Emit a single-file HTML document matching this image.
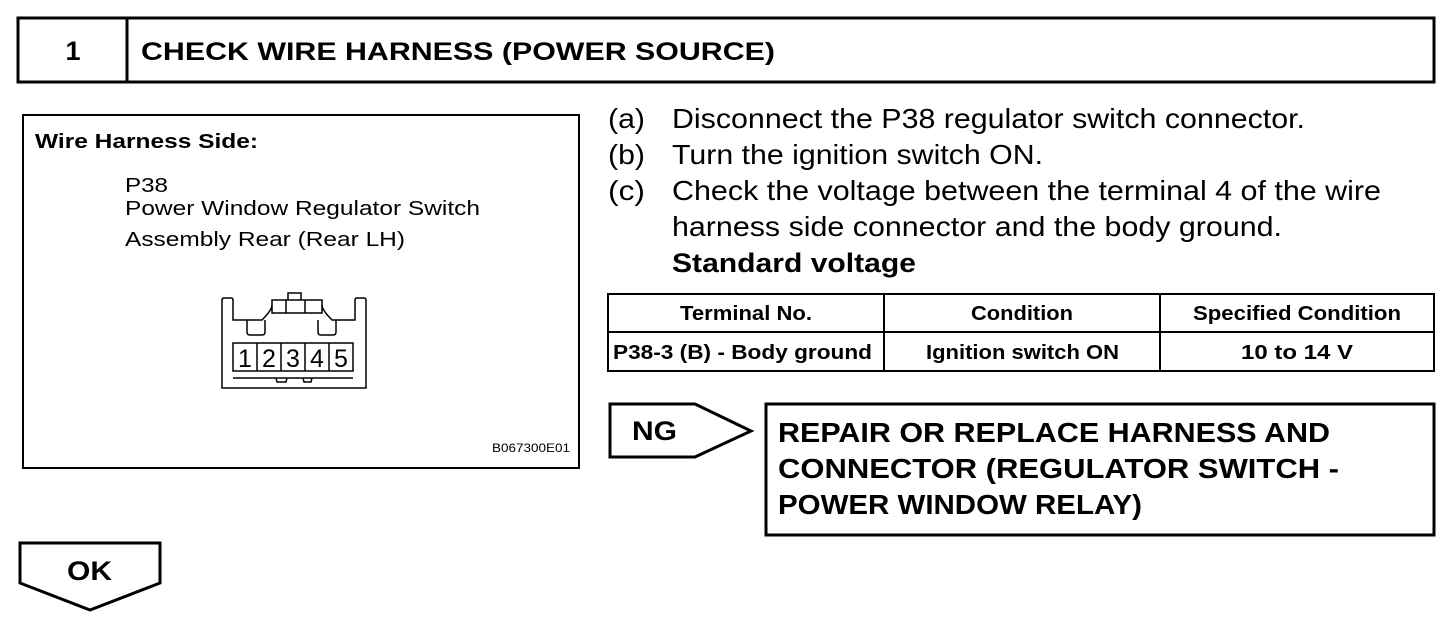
<!DOCTYPE html>
<html><head><meta charset="utf-8"><style>
html,body{margin:0;padding:0;background:#fff;}
svg{display:block;}
text{font-family:"Liberation Sans",Arial,sans-serif;fill:#000;}
</style></head><body>
<svg width="1456" height="624" viewBox="0 0 1456 624" xmlns="http://www.w3.org/2000/svg">
<rect x="18" y="18" width="1416" height="64" fill="none" stroke="#000" stroke-width="3"/>
<line x1="127" y1="18" x2="127" y2="82" stroke="#000" stroke-width="3"/>
<text x="73" y="60" font-size="27" font-weight="bold" text-anchor="middle">1</text>
<text x="141" y="60" font-size="25" font-weight="bold" textLength="634" lengthAdjust="spacingAndGlyphs">CHECK WIRE HARNESS (POWER SOURCE)</text>

<rect x="23" y="115" width="556" height="353" fill="none" stroke="#000" stroke-width="2"/>
<text x="35" y="148" font-size="20" font-weight="bold" textLength="223" lengthAdjust="spacingAndGlyphs">Wire Harness Side:</text>
<text x="125" y="192" font-size="20" textLength="43" lengthAdjust="spacingAndGlyphs">P38</text>
<text x="125" y="215" font-size="20" textLength="355" lengthAdjust="spacingAndGlyphs">Power Window Regulator Switch</text>
<text x="125" y="246" font-size="20" textLength="280" lengthAdjust="spacingAndGlyphs">Assembly Rear (Rear LH)</text>
<text x="492" y="452" font-size="12" textLength="78" lengthAdjust="spacingAndGlyphs">B067300E01</text>

<g fill="none" stroke="#000" stroke-width="1.5">
<path d="M222,388 L222,300 Q222,298 224,298 L231,298 Q233,298 233,300 L233,320 L262,320 Q272,310 272,305 L272,300 L322,300 L322,305 Q322,310 332,320 L355,320 L355,300 Q355,298 357,298 L364,298 Q366,298 366,300 L366,388 Z"/>
<path d="M288,300 L288,293 L301,293 L301,300"/>
<line x1="286" y1="300" x2="286" y2="313"/><line x1="305" y1="300" x2="305" y2="313"/>
<path d="M272,305 L272,313 L322,313 L322,305"/>
<path d="M247,320 L247,332 Q247,335 250,335 L262,335 Q265,335 265,332 L265,320"/>
<path d="M318,320 L318,332 Q318,335 321,335 L333,335 Q336,335 336,332 L336,320"/>
<rect x="233" y="343" width="120" height="28"/>
<line x1="257" y1="343" x2="257" y2="371"/><line x1="281" y1="343" x2="281" y2="371"/>
<line x1="305" y1="343" x2="305" y2="371"/><line x1="329" y1="343" x2="329" y2="371"/>
<line x1="233" y1="378" x2="353" y2="378"/>
<path d="M276,378 L277,382 L286,382 L287,378 M303,378 L304,382 L311,382 L312,378"/>
</g>
<g font-size="25">
<text x="245" y="367" text-anchor="middle">1</text><text x="269" y="367" text-anchor="middle">2</text>
<text x="293" y="367" text-anchor="middle">3</text><text x="317" y="367" text-anchor="middle">4</text>
<text x="341" y="367" text-anchor="middle">5</text>
</g>

<g font-size="28">
<text x="608" y="128" textLength="37" lengthAdjust="spacingAndGlyphs">(a)</text><text x="672" y="128" textLength="633" lengthAdjust="spacingAndGlyphs">Disconnect the P38 regulator switch connector.</text>
<text x="608" y="164" textLength="37" lengthAdjust="spacingAndGlyphs">(b)</text><text x="672" y="164" textLength="371" lengthAdjust="spacingAndGlyphs">Turn the ignition switch ON.</text>
<text x="608" y="200" textLength="37" lengthAdjust="spacingAndGlyphs">(c)</text><text x="672" y="200" textLength="709" lengthAdjust="spacingAndGlyphs">Check the voltage between the terminal 4 of the wire</text>
<text x="672" y="236" textLength="610" lengthAdjust="spacingAndGlyphs">harness side connector and the body ground.</text>
</g>
<text x="672" y="272" font-size="27" font-weight="bold" textLength="244" lengthAdjust="spacingAndGlyphs">Standard voltage</text>

<g fill="none" stroke="#000" stroke-width="2">
<rect x="608" y="294" width="826" height="77"/>
<line x1="608" y1="332" x2="1434" y2="332"/>
<line x1="884" y1="294" x2="884" y2="371"/>
<line x1="1160" y1="294" x2="1160" y2="371"/>
</g>
<g font-size="20" font-weight="bold">
<text x="680" y="320" textLength="132" lengthAdjust="spacingAndGlyphs">Terminal No.</text>
<text x="971" y="320" textLength="102" lengthAdjust="spacingAndGlyphs">Condition</text>
<text x="1193" y="320" textLength="208" lengthAdjust="spacingAndGlyphs">Specified Condition</text>
<text x="613" y="359" textLength="259" lengthAdjust="spacingAndGlyphs">P38-3 (B) - Body ground</text>
<text x="926" y="359" textLength="193" lengthAdjust="spacingAndGlyphs">Ignition switch ON</text>
<text x="1241" y="359" textLength="112" lengthAdjust="spacingAndGlyphs">10 to 14 V</text>
</g>

<path d="M610,404 L695,404 L751,431 L695,457 L610,457 Z" fill="none" stroke="#000" stroke-width="3"/>
<text x="632" y="440" font-size="27" font-weight="bold" textLength="45" lengthAdjust="spacingAndGlyphs">NG</text>
<rect x="766" y="404" width="668" height="131" fill="none" stroke="#000" stroke-width="3"/>
<g font-size="28" font-weight="bold">
<text x="778" y="442" textLength="552" lengthAdjust="spacingAndGlyphs">REPAIR OR REPLACE HARNESS AND</text>
<text x="778" y="478" textLength="561" lengthAdjust="spacingAndGlyphs">CONNECTOR (REGULATOR SWITCH -</text>
<text x="778" y="514" textLength="364" lengthAdjust="spacingAndGlyphs">POWER WINDOW RELAY)</text>
</g>

<path d="M20,543 L160,543 L160,583 L90,610 L20,583 Z" fill="none" stroke="#000" stroke-width="3"/>
<text x="67" y="580" font-size="27" font-weight="bold" textLength="45" lengthAdjust="spacingAndGlyphs">OK</text>
</svg>
</body></html>
